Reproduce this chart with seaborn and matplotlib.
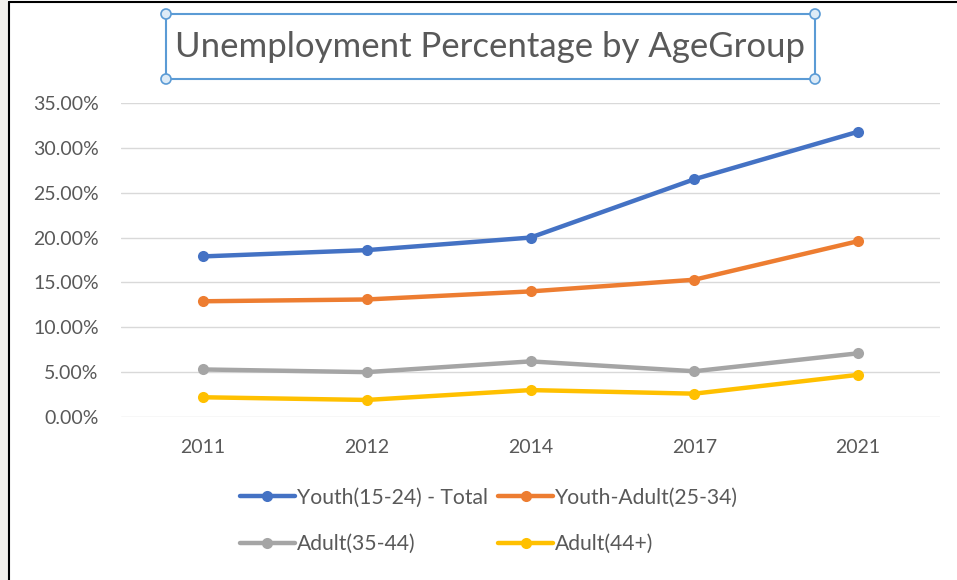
import pandas as pd
import numpy as np
import matplotlib.pyplot as plt
import seaborn as sns
from matplotlib.ticker import PercentFormatter
from matplotlib.patches import Rectangle, Circle
from matplotlib.lines import Line2D

# Chart data (percent)
years = ['2011', '2012', '2014', '2017', '2021']
youth = [17.9, 18.6, 20.0, 26.5, 31.8]
youth_adult = [12.9, 13.1, 14.0, 15.3, 19.6]
adult_35_44 = [5.3, 5.0, 6.2, 5.1, 7.1]
adult_44 = [2.2, 1.9, 3.0, 2.6, 4.7]
series_names = ['Youth(15-24) - Total', 'Youth-Adult(25-34)', 'Adult(35-44)', 'Adult(44+)']
colors = ['#4472C4', '#ED7D31', '#A5A5A5', '#FFC000']

# Long format for seaborn
df = pd.DataFrame({
    'Year': years * 4,
    'Value': youth + youth_adult + adult_35_44 + adult_44,
    'Group': np.repeat(series_names, len(years)),
})

sns.set_style('white')
plt.rcParams['font.family'] = ['Lato', 'DejaVu Sans']
text_color = '#595959'

fig = plt.figure(figsize=(9.57, 5.8), dpi=100)
ax = fig.add_axes([121 / 957, 1 - 417 / 580, 819 / 957, 314 / 580])

sns.lineplot(data=df, x='Year', y='Value', hue='Group', palette=colors,
             marker='o', markersize=8, markeredgewidth=0, linewidth=3.2,
             sort=False, ax=ax, legend=False)

ax.set_xlim(-0.5, len(years) - 0.5)
ax.set_ylim(0, 35)
ax.set_yticks(np.arange(0, 36, 5))
ax.yaxis.set_major_formatter(PercentFormatter(xmax=100, decimals=2))
ax.grid(axis='y', color='#D9D9D9', linewidth=1)
ax.set_axisbelow(True)
for s in ax.spines.values():
    s.set_visible(False)
ax.tick_params(axis='y', length=0, pad=16, labelsize=14, labelcolor=text_color)
ax.tick_params(axis='x', length=0, pad=16, labelsize=14, labelcolor=text_color)
ax.set_xlabel('')
ax.set_ylabel('')

# Legend, row-wise order
handles = [Line2D([], [], color=c, linewidth=3.2, marker='o', markersize=8, markeredgewidth=0)
           for c in colors]
order = [0, 2, 1, 3]
leg = fig.legend([handles[i] for i in order], [series_names[i] for i in order],
                 ncol=2, loc='center', bbox_to_anchor=(489 / 957, 1 - 521 / 580),
                 frameon=False, fontsize=15.2, labelspacing=1.25, handlelength=2.6,
                 handletextpad=0.1, columnspacing=0.5, labelcolor=text_color)

# Title with selection box
fig.text(490 / 957, 1 - 47 / 580, 'Unemployment Percentage by AgeGroup',
         ha='center', va='center', fontsize=25, color=text_color)
box_color = '#5B9BD5'
fig.add_artist(Rectangle((166 / 957, 1 - 79 / 580), 649 / 957, 65 / 580,
                         transform=fig.transFigure, fill=False,
                         edgecolor=box_color, linewidth=1.5))
for cx, cy in [(166, 14), (815, 14), (166, 79), (815, 79)]:
    fig.add_artist(Circle((cx, 580 - cy), 5, transform=None,
                          facecolor='#DDEBF7', edgecolor=box_color, linewidth=1.2))

# Screenshot frame
fig.add_artist(Rectangle((0, 0), 8 / 957, 1, transform=fig.transFigure,
                         facecolor='#F2F0EB', edgecolor='none'))
fig.add_artist(Line2D([9 / 957, 9 / 957], [0, 1 - 2 / 580], transform=fig.transFigure,
                      color='black', linewidth=1.5))
fig.add_artist(Line2D([9 / 957, 1], [1 - 2 / 580, 1 - 2 / 580], transform=fig.transFigure,
                      color='black', linewidth=1.5))

fig.savefig('out.png', dpi=100)
